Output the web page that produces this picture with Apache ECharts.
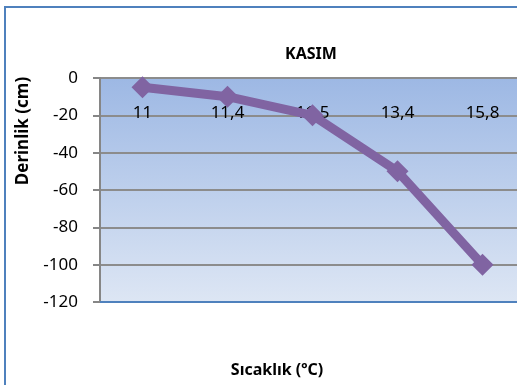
<!DOCTYPE html>
<html>
<head>
<meta charset="utf-8">
<script src="https://cdn.jsdelivr.net/npm/echarts@6/dist/echarts.min.js"></script>
<style>
  html, body { margin: 0; padding: 0; background: #fff; }
  #frame { position: absolute; left: 4px; top: 6px; width: 530px; height: 400px;
           border-left: 2px solid #4f81bd; border-top: 2px solid #4f81bd; box-sizing: border-box; }
  #chart { position: absolute; left: 0; top: 0; width: 517px; height: 385px; }
</style>
</head>
<body>
<div id="frame"></div>
<div id="chart"></div>
<script>
// Soil temperature (ºC) and the depth (cm) at which it was measured
const temperatures = ['11', '11,4', '11,5', '13,4', '15,8'];
const depths = [-5, -10, -20, -50, -100];
const depthTicks = [0, -20, -40, -60, -80, -100, -120];

const font = '"Noto Sans", "Open Sans", sans-serif';
const chart = echarts.init(document.getElementById('chart'), null, { renderer: 'canvas' });

chart.setOption({
  animation: false,
  title: {
    text: 'KASIM',
    left: 306, top: 41, textAlign: 'center',
    textStyle: { fontFamily: font, fontSize: 16, fontWeight: 'bold', color: '#000' }
  },
  grid: {
    left: 100, top: 78, width: 425, height: 224,
    outerBoundsMode: 'none',
    containLabel: false,
    show: true,
    borderWidth: 0,
    backgroundColor: new echarts.graphic.LinearGradient(0, 0, 0, 1, [
      { offset: 0, color: '#9db8e4' },
      { offset: 1, color: '#dde6f4' }
    ])
  },
  xAxis: {
    type: 'category',
    data: temperatures,
    boundaryGap: true,
    position: 'top',
    axisLine: { show: false },
    axisTick: { show: false },
    axisLabel: {
      inside: true, margin: 27,
      fontFamily: font, fontSize: 17, color: '#000'
    },
    splitLine: { show: false }
  },
  yAxis: {
    type: 'value',
    min: -120, max: 0, interval: 20,
    axisLine: { show: true, lineStyle: { color: '#868686', width: 2 } },
    axisTick: { show: true, length: 7, lineStyle: { color: '#868686', width: 2 } },
    axisLabel: {
      margin: 22, fontFamily: font, fontSize: 17, color: '#000',
      formatter: v => depthTicks.includes(v) ? String(v) : ''
    },
    splitLine: { show: true, lineStyle: { color: '#8c8c8c', width: 2 } }
  },
  graphic: [
    {
      // y-axis title
      type: 'text', x: 23, y: 131, rotation: Math.PI / 2,
      style: { text: 'Derinlik (cm)', font: 'bold 17px ' + font, fill: '#000',
               align: 'center', verticalAlign: 'middle' },
      silent: true
    },
    {
      // x-axis title
      type: 'text', x: 277, y: 370,
      style: { text: 'Sıcaklık (ºC)', font: 'bold 16px ' + font, fill: '#000',
               align: 'center', verticalAlign: 'middle' },
      silent: true
    },
    {
      // plot-area bottom edge
      type: 'line', z: 10,
      shape: { x1: 100, y1: 302, x2: 525, y2: 302 },
      style: { stroke: '#4f81bd', lineWidth: 2 }
    }
  ],
  series: [{
    type: 'line',
    data: depths,
    symbol: 'diamond',
    symbolSize: 22,
    lineStyle: { color: '#8064a2', width: 9 },
    itemStyle: { color: '#8064a2' },
    z: 5
  }]
});
</script>
</body>
</html>
